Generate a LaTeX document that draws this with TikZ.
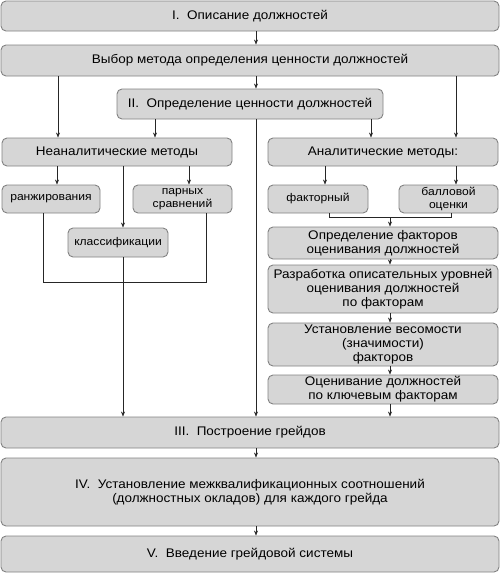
\documentclass[tikz,border=0pt]{standalone}
\usepackage{fontspec}
\setmainfont{Liberation Sans}[FakeStretch=1.08]
\usetikzlibrary{arrows.meta,calc}
\definecolor{boxfill}{RGB}{214,214,214}
\definecolor{boxline}{RGB}{130,130,130}
\tikzset{
  box/.style={draw=boxline, fill=boxfill, rounded corners=5pt, line width=0.9pt,
    inner sep=0pt, align=center, font=\fontsize{12.5}{14.3}\selectfont},
  smallbox/.style={box, font=\fontsize{11.2}{13}\selectfont},
  arr/.style={draw=black!85, line width=0.6pt, -{Stealth[length=5pt,width=4pt]}},
  ln/.style={draw=black!85, line width=0.6pt}
}
\begin{document}
\begin{tikzpicture}[x=1pt,y=-1pt]
\useasboundingbox (0,0) rectangle (500,573);
% boxes
\node[box, minimum width=498, minimum height=30] (I) at (250,16) {I.\ \ Описание должностей};
\node[box, minimum width=498, minimum height=31] (B) at (250,60.5) {Выбор метода определения ценности должностей};
\node[box, minimum width=266, minimum height=30] (II) at (250,104) {II.\ \ Определение ценности должностей};
\node[box, minimum width=230, minimum height=28] (NA) at (117,152) {Неаналитические методы};
\node[box, minimum width=230, minimum height=28] (AN) at (383,152) {Аналитические методы:};
\node[smallbox, minimum width=98, minimum height=28] (R) at (51,199) {ранжирования};
\node[smallbox, minimum width=99, minimum height=28] (P) at (182.5,199) {парных\\сравнений};
\node[smallbox, minimum width=100, minimum height=29] (K) at (118,242.5) {классификации};
\node[smallbox, minimum width=100, minimum height=28] (F) at (318,199) {факторный};
\node[smallbox, minimum width=99, minimum height=28] (Bo) at (448.5,199) {балловой\\оценки};
\node[box, minimum width=230, minimum height=32] (OF) at (383,243) {Определение факторов\\оценивания должностей};
\node[box, minimum width=230, minimum height=48] (RA) at (383,289) {Разработка описательных уровней\\оценивания должностей\\по факторам};
\node[box, minimum width=230, minimum height=43] (UV) at (383,344.5) {Установление весомости\\(значимости)\\факторов};
\node[box, minimum width=230, minimum height=29] (OC) at (383,389.5) {Оценивание должностей\\по ключевым факторам};
\node[box, minimum width=498, minimum height=31] (III) at (250,432.5) {III.\ \ Построение грейдов};
\node[box, minimum width=498, minimum height=68] (IV) at (250,492) {IV.\ \ Установление межквалификационных соотношений\\(должностных окладов) для каждого грейда};
\node[box, minimum width=498, minimum height=36] (V) at (250,554) {V.\ \ Введение грейдовой системы};
% guide coordinates
\coordinate (mid) at (256,0);
\coordinate (xl) at (58,0);
\coordinate (xr) at (456,0);
\coordinate (x155) at (155,0);
\coordinate (x371) at (371,0);
\coordinate (xR) at (57,0);
\coordinate (xP) at (189,0);
\coordinate (xK) at (123,0);
\coordinate (xF) at (325,0);
\coordinate (xC) at (390,0);
\coordinate (brL) at (43,282);
\coordinate (brR) at (206,282);
\coordinate (bfL) at (329,217);
\coordinate (bfR) at (451,217);
% connectors
\draw[arr] (I.south -| mid) -- (B.north -| mid);
\draw[arr] (B.south -| mid) -- (II.north -| mid);
\draw[arr] (B.south -| xl) -- (NA.north -| xl);
\draw[arr] (B.south -| xr) -- (AN.north -| xr);
\draw[arr] (II.south -| x155) -- (NA.north -| x155);
\draw[arr] (II.south -| x371) -- (AN.north -| x371);
\draw[arr] (II.south -| mid) -- (III.north -| mid);
\draw[arr] (NA.south -| xR) -- (R.north -| xR);
\draw[arr] (NA.south -| xP) -- (P.north -| xP);
\draw[arr] (NA.south -| xK) -- (K.north -| xK);
\draw[ln] (R.south -| brL) -- (brL) -- (brR) -- (P.south -| brR);
\draw[arr] (K.south -| xK) -- (III.north -| xK);
\draw[arr] (AN.south -| xF) -- (F.north -| xF);
\draw[arr] (AN.south -| xr) -- (Bo.north -| xr);
\draw[ln] (F.south -| bfL) -- (bfL) -- (bfR) -- (Bo.south -| bfR);
\draw[arr] (bfL -| xC) -- (OF.north -| xC);
\draw[arr] (OF.south -| xC) -- (RA.north -| xC);
\draw[arr] (RA.south -| xC) -- (UV.north -| xC);
\draw[arr] (UV.south -| xC) -- (OC.north -| xC);
\draw[arr] (OC.south -| xC) -- (III.north -| xC);
\draw[arr] (III.south -| mid) -- (IV.north -| mid);
\draw[arr] (IV.south -| mid) -- (V.north -| mid);
\end{tikzpicture}
\end{document}
